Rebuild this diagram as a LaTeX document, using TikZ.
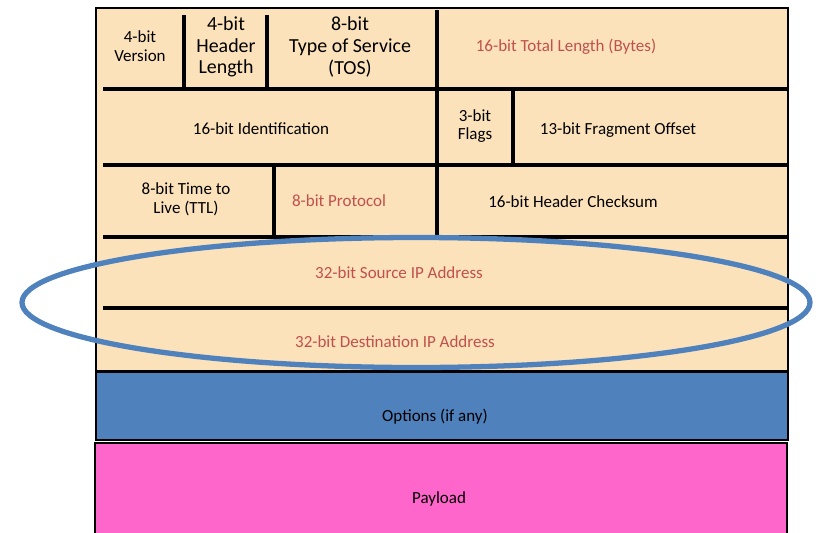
\documentclass[tikz,border=0pt]{standalone}
\usepackage{fontspec}
\setmainfont{Carlito}
\usetikzlibrary{positioning}

\definecolor{hdrfill}{RGB}{252,226,186}
\definecolor{optblue}{RGB}{79,129,189}
\definecolor{payfill}{RGB}{255,102,204}
\definecolor{fieldred}{RGB}{192,80,77}

\begin{document}
\begin{tikzpicture}[
  x=0.03cm, y=-0.03cm,
  box/.style  = {draw, line width=1.5pt},
  sep/.style  = {line width=4.2pt},
  fld/.style  = {align=center, inner sep=0pt, font=\fontsize{14.5}{16}\selectfont},
  big/.style  = {align=center, inner sep=0pt, font=\fontsize{17}{18.5}\selectfont},
  red/.style  = {fld, text=fieldred},
]
\useasboundingbox (0,0) rectangle (816,532);

% ── Header, options and payload blocks ───────────────────────────────────────
\draw[box, fill=hdrfill] (96,8)   rectangle (788,371);
\draw[box, fill=optblue] (96,372) rectangle (788,440);
\draw[box, fill=payfill] (95,443) rectangle (787,536);

% ── Row separators ───────────────────────────────────────────────────────────
\foreach \y in {89,165,237,308}
  \draw[sep] (103,\y) -- (789,\y);

% ── Column separators ────────────────────────────────────────────────────────
\draw[sep] (184,15) -- (184,89);
\draw[sep] (267,15) -- (267,89);
\draw[sep] (437,10) -- (437,237);
\draw[sep] (513,89) -- (513,165);
\draw[sep] (274,165) -- (274,237);

% ── Row 1 ────────────────────────────────────────────────────────────────────
\node[fld]  (ver)  at (140,46)  {4-bit\\Version};
\node[big]  (hlen) at (226,47)  {4-bit\\Header\\Length};
\node[big]  (tos)  at (350,47)  {8-bit\\Type of Service\\(TOS)};
\node[red]  (tlen) at (566,47)  {16-bit Total Length (Bytes)};

% ── Row 2 ────────────────────────────────────────────────────────────────────
\node[fld]  (ident) at (261,129) {16-bit Identification};
\node[fld]  (flags) at (475,126) {3-bit\\Flags};
\node[fld]  (frag)  at (618,130) {13-bit Fragment Offset};

% ── Row 3 ────────────────────────────────────────────────────────────────────
\node[fld]  (ttl)   at (186,199) {8-bit Time to\\Live (TTL)};
\node[red]  (proto) at (339,201) {8-bit Protocol};
\node[fld]  (csum)  at (573,202) {16-bit Header Checksum};

% ── Addresses ────────────────────────────────────────────────────────────────
\node[red]  (src) at (399,273) {32-bit Source IP Address};
\node[red]  (dst) at (395,342) {32-bit Destination IP Address};

% ── Options and payload ──────────────────────────────────────────────────────
\node[fld]  (opts) at (435,417) {Options (if any)};
\node[fld]  (pay)  at (439,499) {Payload};

% ── Highlight round the addresses ────────────────────────────────────────────
\draw[optblue, line width=4.5pt] (416,302.5) ellipse [x radius=394, y radius=65];

\end{tikzpicture}
\end{document}
